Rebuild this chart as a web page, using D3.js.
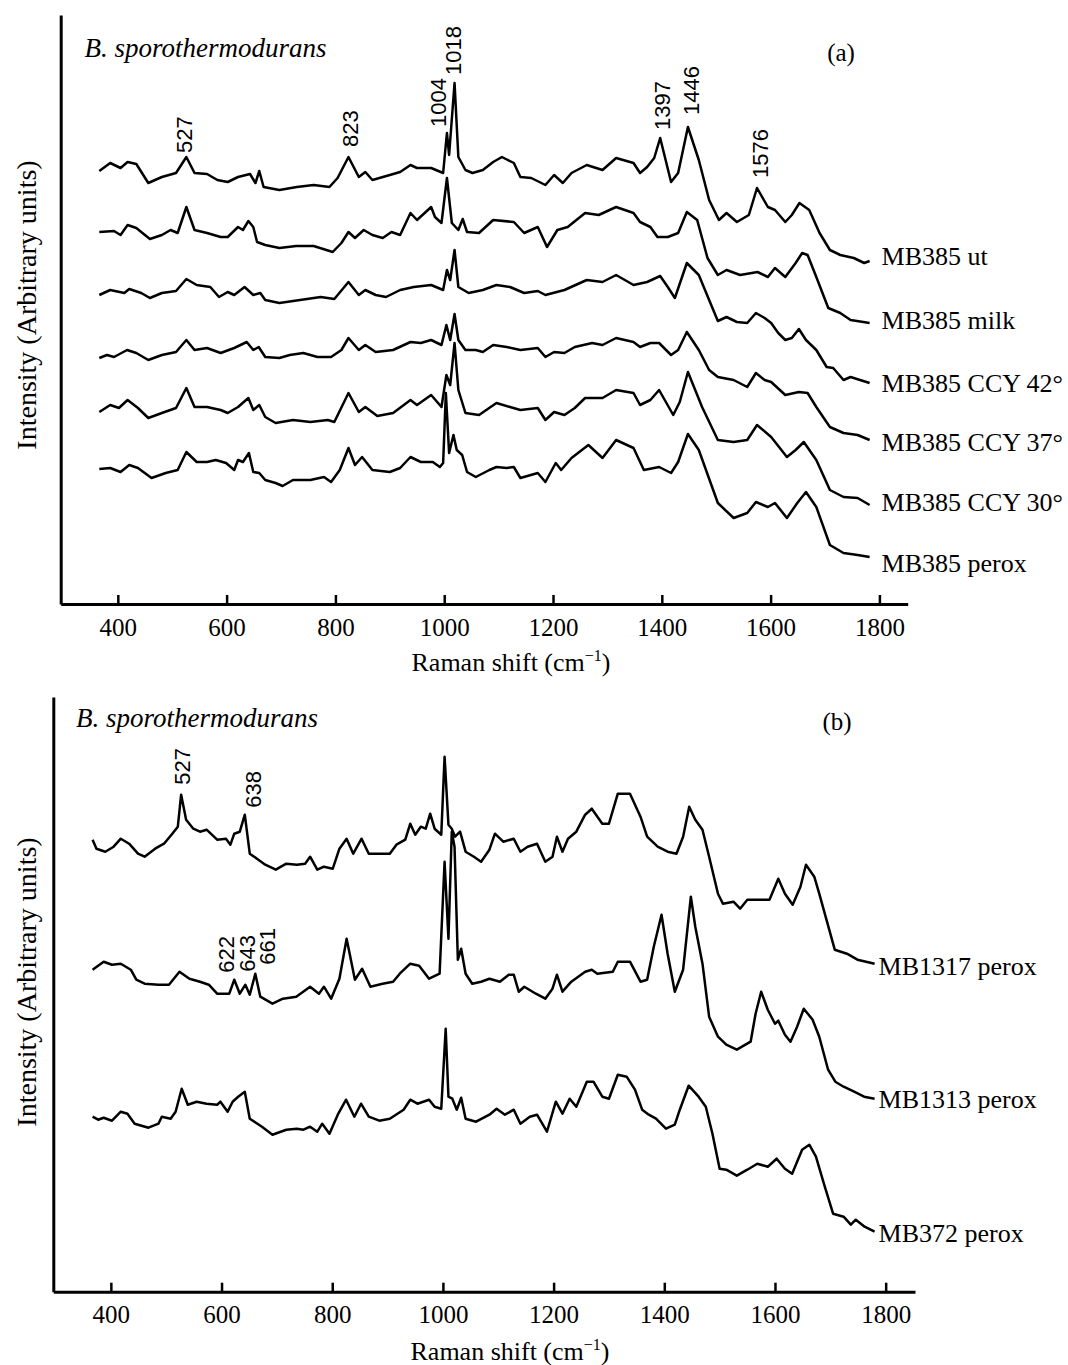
<!DOCTYPE html>
<html>
<head>
<meta charset="utf-8">
<script src="https://cdn.jsdelivr.net/npm/d3@7"></script>
<style>
  body { margin: 0; background: #fff; }
  svg { display: block; }
  .serif { font-family: "Liberation Serif", "Times New Roman", serif; fill: #000; }
  .sans { font-family: "Liberation Sans", Arial, sans-serif; fill: #000; }
</style>
</head>
<body>
<svg id="chart" width="1068" height="1365"></svg>
<script>
// ---------------- DATA (Raman shift cm-1, intensity in arbitrary units, traces already offset) ----------------
const tickValues = [400, 600, 800, 1000, 1200, 1400, 1600, 1800];

// Panel (a)
const seriesNamesA = ["MB385 ut", "MB385 milk", "MB385 CCY 42°", "MB385 CCY 37°", "MB385 CCY 30°", "MB385 perox"];
const labelLevelsA = [348, 284, 221, 162, 102, 41];

const mb385ut = [[366,433],[386,441],[405,436],[418,442],[434,440],[456,421],[481,427],[507,431],[526,447],[541,431],[564,430],[583,424],[602,422],[621,427],[643,430],[653,421],[660,433],[668,417],[697,414],[729,417],[760,419],[789,417],[804,426],[824,447],[843,427],[855,432],[868,424],[900,429],[919,432],[938,439],[950,436],[976,436],[998,431],[1005,471],[1009,449],[1019,521],[1026,447],[1039,434],[1052,431],[1071,434],[1090,442],[1106,447],[1128,441],[1140,427],[1160,426],[1186,419],[1202,429],[1218,421],[1234,431],[1262,439],[1291,434],[1316,446],[1348,441],[1360,431],[1373,437],[1386,446],[1397,466],[1417,422],[1430,431],[1448,477],[1468,444],[1487,404],[1505,384],[1519,391],[1538,382],[1560,389],[1575,416],[1595,397],[1608,394],[1627,382],[1639,389],[1653,401],[1671,394],[1690,371],[1709,354],[1728,349],[1753,346],[1772,341],[1782,343]];

const mb385milk = [[366,372],[393,373],[405,369],[418,379],[434,376],[459,365],[481,369],[497,374],[510,371],[526,397],[541,374],[564,371],[589,367],[602,367],[621,377],[630,374],[640,383],[649,377],[656,362],[671,359],[697,356],[728,358],[760,358],[795,352],[811,361],[824,372],[836,366],[852,374],[868,369],[887,366],[903,372],[919,369],[938,391],[950,384],[976,397],[983,387],[995,381],[1005,426],[1014,381],[1026,374],[1034,385],[1042,372],[1064,371],[1090,384],[1128,382],[1147,371],[1172,377],[1189,357],[1208,374],[1227,377],[1259,391],[1284,389],[1316,397],[1348,391],[1360,382],[1379,377],[1392,367],[1411,367],[1430,371],[1446,392],[1465,384],[1484,346],[1503,329],[1519,334],[1544,329],[1576,332],[1595,327],[1608,336],[1627,327],[1646,341],[1658,351],[1668,349],[1684,327],[1706,296],[1728,291],[1747,284],[1782,281]];

const mb385ccy42 = [[366,309],[386,314],[412,311],[421,315],[443,311],[459,306],[481,311],[507,313],[526,325],[545,319],[570,317],[586,307],[602,312],[614,309],[633,317],[649,309],[662,311],[671,304],[697,301],[735,304],[773,307],[798,305],[824,322],[843,309],[855,314],[874,309],[893,307],[919,314],[944,317],[976,319],[998,314],[1005,334],[1011,324],[1019,354],[1026,317],[1045,311],[1071,314],[1096,319],[1121,317],[1147,311],[1172,313],[1186,309],[1221,314],[1262,324],[1291,322],[1316,329],[1348,319],[1373,322],[1397,328],[1411,317],[1424,306],[1446,341],[1468,329],[1487,304],[1503,283],[1519,287],[1538,282],[1557,281],[1573,291],[1589,286],[1601,281],[1614,271],[1627,264],[1639,266],[1652,275],[1665,264],[1684,254],[1703,237],[1715,236],[1734,224],[1747,227],[1782,221]];

const mb385ccy37 = [[366,246],[380,249],[393,247],[417,254],[434,251],[456,244],[481,249],[507,252],[526,264],[541,254],[564,256],[589,251],[614,256],[637,262],[649,254],[659,257],[671,247],[697,246],[716,249],[741,251],[767,247],[792,247],[811,254],[824,266],[843,254],[855,259],[874,252],[906,254],[938,262],[957,261],[976,264],[995,259],[1004,279],[1011,264],[1019,290],[1026,264],[1039,254],[1058,254],[1071,252],[1090,259],[1115,257],[1140,254],[1172,256],[1186,247],[1202,252],[1221,251],[1240,257],[1272,261],[1291,259],[1316,266],[1348,262],[1360,257],[1379,261],[1395,261],[1417,249],[1430,254],[1446,272],[1468,254],[1487,234],[1503,227],[1532,224],[1557,217],[1573,231],[1589,224],[1601,222],[1627,209],[1652,212],[1668,211],[1684,197],[1709,177],[1734,171],[1760,169],[1782,164]];

const mb385ccy30 = [[366,192],[386,199],[402,196],[418,204],[437,196],[456,186],[481,191],[507,196],[526,216],[541,197],[564,197],[589,194],[602,191],[621,197],[640,206],[649,194],[660,199],[671,187],[690,181],[722,184],[754,182],[786,184],[798,182],[824,211],[843,192],[855,197],[877,188],[906,191],[938,204],[950,199],[976,209],[995,197],[1004,229],[1011,219],[1019,261],[1026,214],[1039,191],[1064,189],[1096,201],[1121,197],[1140,194],[1172,196],[1186,184],[1202,192],[1221,189],[1240,196],[1259,206],[1291,206],[1316,214],[1348,211],[1360,199],[1379,204],[1395,214],[1421,189],[1433,202],[1448,232],[1474,197],[1503,164],[1532,162],[1557,164],[1575,179],[1601,167],[1630,147],[1646,154],[1661,162],[1684,144],[1709,114],[1734,107],[1760,106],[1782,99]];

const mb385perox = [[366,135],[386,136],[405,132],[421,139],[437,136],[462,126],[488,131],[510,134],[526,152],[545,142],[564,142],[580,144],[599,141],[614,134],[621,144],[630,142],[641,151],[649,132],[660,131],[671,124],[690,121],[703,118],[722,124],[754,124],[779,127],[792,122],[808,134],[824,156],[836,139],[849,147],[868,134],[900,132],[919,136],[938,147],[957,142],[979,142],[992,137],[998,141],[1003,211],[1009,151],[1017,169],[1023,154],[1033,149],[1042,132],[1058,127],[1083,134],[1096,137],[1115,136],[1128,137],[1140,126],[1172,131],[1186,122],[1205,141],[1215,134],[1234,146],[1265,159],[1291,146],[1316,164],[1348,156],[1367,134],[1395,137],[1417,131],[1430,142],[1448,170],[1468,154],[1503,101],[1532,86],[1557,91],[1573,102],[1595,97],[1608,101],[1630,86],[1649,101],[1665,112],[1684,97],[1709,59],[1734,51],[1760,49],[1782,47]];

// peak annotations (label, Raman shift, intensity at text foot)
const peakLabelsA = ["527", "823", "1004", "1018", "1397", "1446", "1576"];
const peakShiftsA = [522, 827, 989, 1017, 1402, 1455, 1582];
const peakLevelsA = [451, 457, 477, 529, 474, 489, 426];

// Panel (b)
const seriesNamesB = ["MB1317 perox", "MB1313 perox", "MB372 perox"];
const labelLevelsB = [325, 192, 58];

const mb1317perox = [[367,452],[374,443],[390,440],[405,445],[418,453],[433,448],[449,438],[461,435],[480,443],[496,448],[511,458],[521,465],[527,497],[536,472],[549,463],[561,460],[573,462],[592,452],[608,453],[616,447],[623,458],[633,460],[642,477],[651,438],[664,433],[679,427],[698,422],[717,428],[736,427],[751,428],[760,435],[773,422],[785,425],[801,423],[813,443],[826,453],[838,438],[853,453],[866,438],[885,438],[904,438],[916,447],[932,452],[941,468],[950,457],[960,465],[969,463],[977,478],[985,463],[997,457],[1003,535],[1010,467],[1016,463],[1022,455],[1031,460],[1041,440],[1056,435],[1069,430],[1084,442],[1094,458],[1109,450],[1128,453],[1140,440],[1153,445],[1170,448],[1185,430],[1198,435],[1206,455],[1216,440],[1226,453],[1241,460],[1257,477],[1269,483],[1288,468],[1300,468],[1316,498],[1338,498],[1357,475],[1369,455],[1388,445],[1406,440],[1422,438],[1434,455],[1445,485],[1456,472],[1469,462],[1481,435],[1497,398],[1506,388],[1525,390],[1537,383],[1550,392],[1575,392],[1590,392],[1606,413],[1618,398],[1632,387],[1646,405],[1656,427],[1671,415],[1680,398],[1693,372],[1708,342],[1730,338],[1749,332],[1780,328]];

const mb1313perox = [[367,322],[387,330],[402,327],[418,328],[436,322],[446,312],[461,308],[486,307],[505,307],[524,320],[542,313],[561,310],[577,307],[592,298],[614,298],[623,312],[633,298],[643,307],[651,297],[661,318],[670,295],[692,288],[711,293],[735,295],[760,305],[776,298],[785,305],[798,293],[813,313],[826,353],[841,312],[854,323],[869,305],[891,308],[910,310],[922,318],[941,328],[957,326],[975,313],[994,318],[1003,430],[1010,353],[1016,460],[1021,445],[1027,332],[1033,343],[1041,318],[1053,308],[1069,310],[1084,313],[1103,310],[1119,317],[1128,317],[1137,300],[1147,305],[1168,298],[1185,293],[1198,303],[1206,317],[1216,300],[1232,310],[1257,320],[1269,322],[1279,318],[1307,320],[1316,330],[1338,330],[1357,310],[1369,312],[1381,345],[1395,377],[1406,338],[1419,300],[1434,322],[1448,395],[1456,365],[1469,328],[1481,275],[1497,255],[1512,247],[1531,242],[1556,250],[1565,278],[1575,300],[1587,282],[1600,268],[1606,271],[1618,257],[1628,250],[1640,265],[1652,283],[1668,272],[1680,255],[1696,222],[1709,210],[1724,205],[1743,200],[1761,195],[1780,193]];

const mb372perox = [[367,175],[377,172],[387,174],[402,171],[418,180],[430,178],[443,168],[468,164],[486,168],[492,175],[508,173],[517,180],[528,203],[539,187],[555,190],[573,188],[592,187],[598,190],[611,180],[620,190],[630,195],[642,200],[651,173],[673,165],[692,157],[717,162],[736,163],[748,162],[760,165],[773,160],[782,168],[795,158],[810,177],[825,192],[840,175],[852,188],[866,175],[885,171],[904,173],[929,182],[941,192],[954,188],[975,192],[985,185],[997,183],[1005,263],[1010,195],[1017,193],[1025,182],[1033,194],[1041,173],[1060,170],[1084,177],[1097,183],[1112,177],[1128,182],[1140,168],[1157,175],[1170,177],[1188,160],[1204,190],[1216,178],[1229,193],[1241,185],[1260,210],[1272,210],[1288,195],[1300,193],[1316,217],[1332,215],[1347,202],[1360,182],[1372,177],[1385,173],[1403,163],[1419,167],[1428,182],[1444,206],[1462,195],[1475,185],[1487,158],[1500,123],[1512,122],[1531,116],[1550,122],[1568,128],[1587,125],[1603,133],[1618,123],[1631,118],[1649,142],[1662,147],[1674,135],[1690,105],[1705,78],[1724,75],[1737,67],[1746,72],[1762,65],[1780,60]];

const peakLabelsB = ["527", "638", "622", "643", "661"];
const peakShiftsB = [530, 658, 609, 646, 683];
const peakLevelsB = [507, 484, 319, 320, 327];

// ---------------- DRAWING ----------------
const svg = d3.select("#chart");
svg.append("rect").attr("width", 1068).attr("height", 1365).attr("fill", "#fff");

function panel(cfg) {
  const x = d3.scaleLinear().domain(cfg.xDomain).range(cfg.xRange);
  const y = d3.scaleLinear().domain(cfg.yDomain).range(cfg.yRange);
  const g = svg.append("g");
  const y0 = cfg.yRange[0];

  // x axis
  const xAxis = d3.axisBottom(x).tickValues(tickValues).tickFormat(d3.format("d"))
    .tickSizeInner(-9).tickSizeOuter(0).tickPadding(14);
  const ax = g.append("g").attr("transform", `translate(0,${y0})`).call(xAxis);
  ax.select(".domain").attr("stroke", "#000").attr("stroke-width", 3);
  ax.selectAll(".tick line").attr("stroke", "#000").attr("stroke-width", 2.5);
  ax.selectAll(".tick text").attr("class", "serif").attr("font-size", 25).attr("fill", "#000");
  ax.attr("font-family", null).attr("font-size", null);

  // y axis (line only)
  const yAxis = d3.axisLeft(y).tickValues([]).tickSizeOuter(0);
  const ay = g.append("g").attr("transform", `translate(${cfg.xRange[0]},0)`).call(yAxis);
  ay.select(".domain").attr("stroke", "#000").attr("stroke-width", 3);

  // spectra
  const line = d3.line().x(d => x(d[0])).y(d => y(d[1])).curve(d3.curveLinear);
  cfg.series.forEach((s, i) => {
    g.append("path").datum(s).attr("d", line)
      .attr("fill", "none").attr("stroke", "#000").attr("stroke-width", 2.5)
      .attr("stroke-linejoin", "round");
    const last = s[s.length - 1];
    g.append("text").attr("class", "serif")
      .attr("x", x(last[0]) + cfg.labelGap)
      .attr("y", y(cfg.labelLevels[i]))
      .attr("dominant-baseline", "central")
      .attr("font-size", 26)
      .text(cfg.names[i]);
  });

  // peak annotations
  cfg.peakLabels.forEach((lab, i) => {
    g.append("text").attr("class", "sans")
      .attr("transform", `translate(${x(cfg.peakShifts[i])},${y(cfg.peakLevels[i])}) rotate(-90)`)
      .attr("dominant-baseline", "central")
      .attr("font-size", 22)
      .text(lab);
  });

  // axis titles
  const xt = g.append("text").attr("class", "serif").attr("font-size", 26)
    .attr("text-anchor", "middle").attr("x", cfg.xTitleX).attr("y", cfg.xTitleY);
  xt.append("tspan").text("Raman shift (cm");
  xt.append("tspan").attr("font-size", 16).attr("dy", -10).text("−1");
  xt.append("tspan").attr("dy", 10).text(")");

  g.append("text").attr("class", "serif").attr("font-size", 28)
    .attr("text-anchor", "middle").attr("dominant-baseline", "central")
    .attr("transform", `translate(26,${cfg.yTitleY}) rotate(-90)`)
    .text("Intensity (Arbitrary units)");

  g.append("text").attr("class", "serif").attr("font-size", 27).attr("font-style", "italic")
    .attr("x", cfg.speciesX).attr("y", cfg.speciesY).text("B. sporothermodurans");

  g.append("text").attr("class", "serif").attr("font-size", 25).attr("text-anchor", "middle")
    .attr("x", cfg.tagX).attr("y", cfg.tagY).text(cfg.tag);
}

panel({
  xDomain: [295, 1852], xRange: [60.7, 907.7],
  yDomain: [0, 589], yRange: [604, 15],
  series: [mb385ut, mb385milk, mb385ccy42, mb385ccy37, mb385ccy30, mb385perox],
  names: seriesNamesA, labelLevels: labelLevelsA, labelGap: 12,
  peakLabels: peakLabelsA, peakShifts: peakShiftsA, peakLevels: peakLevelsA,
  xTitleX: 511, xTitleY: 671, yTitleY: 305,
  speciesX: 84.5, speciesY: 57, tag: "(a)", tagX: 841, tagY: 61
});

panel({
  xDomain: [296, 1853], xRange: [53.3, 915],
  yDomain: [0, 594.7], yRange: [1291.7, 697],
  series: [mb1317perox, mb1313perox, mb372perox],
  names: seriesNamesB, labelLevels: labelLevelsB, labelGap: 4,
  peakLabels: peakLabelsB, peakShifts: peakShiftsB, peakLevels: peakLevelsB,
  xTitleX: 510, xTitleY: 1360, yTitleY: 982,
  speciesX: 76, speciesY: 727, tag: "(b)", tagX: 837, tagY: 730
});
</script>
</body>
</html>
